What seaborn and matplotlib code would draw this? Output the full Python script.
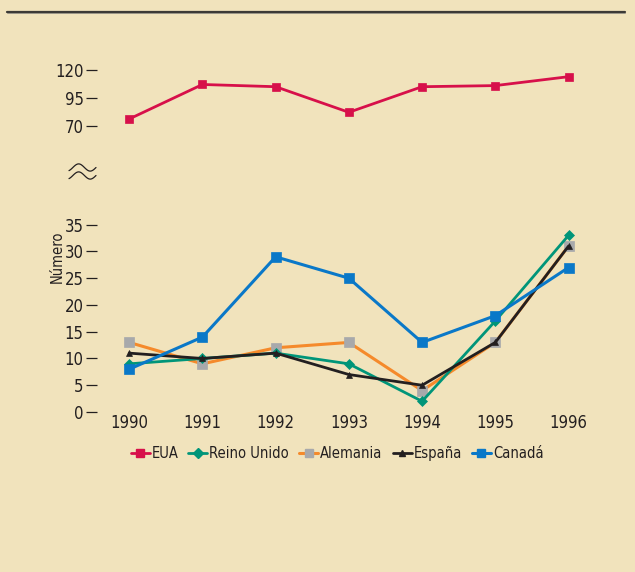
import numpy as np
import pandas as pd
import matplotlib
matplotlib.use("Agg")
import matplotlib.pyplot as plt
from matplotlib import font_manager
from matplotlib.lines import Line2D
import seaborn as sns

years = [1990, 1991, 1992, 1993, 1994, 1995, 1996]
eua = [76, 107, 105, 82, 105, 106, 114]
reino_unido = [9, 10, 11, 9, 2, 17, 33]
alemania = [13, 9, 12, 13, 4, 13, 31]
espana = [11, 10, 11, 7, 5, 13, 31]
canada = [8, 14, 29, 25, 13, 18, 27]

top_ticks = [70, 95, 120]
bottom_ticks = [0, 5, 10, 15, 20, 25, 30, 35]
labels = ["EUA", "Reino Unido", "Alemania", "España", "Canadá"]

BG = "#F1E3BC"
INK = "#231F20"

sns.set_theme(style="white")
names = {f.name for f in font_manager.fontManager.ttflist}
FONT = "Liberation Sans Narrow" if "Liberation Sans Narrow" in names else "DejaVu Sans"
plt.rcParams["font.family"] = [FONT, "DejaVu Sans"]
plt.rcParams["font.stretch"] = "condensed"

W, H = 635, 572
fig = plt.figure(figsize=(W / 100, H / 100), dpi=100, facecolor=BG)


def px_axes(left, top, right, bottom):
    return fig.add_axes([left / W, 1 - bottom / H, (right - left) / W, (bottom - top) / H])


def fx(x):
    return np.asarray(x) / W


def fy(y):
    return 1 - np.asarray(y) / H


ax_top = px_axes(97, 60, 600, 135)
ax_bot = px_axes(97, 214, 600, 413.6)

xlim = (1989.56, 1996.43)

df = pd.DataFrame({"año": years, "EUA": eua, "Reino Unido": reino_unido,
                   "Alemania": alemania, "España": espana, "Canadá": canada})

styles = {
    "EUA": dict(color="#D7104A", marker="s", markersize=5.5, markerfacecolor="#D7104A",
                markeredgecolor="#D7104A", lw=2.0),
    "Reino Unido": dict(color="#009579", marker="D", markersize=5.5, markerfacecolor="#009579",
                        markeredgecolor="#009579", lw=2.0),
    "Alemania": dict(color="#F58A2B", marker="s", markersize=7, markerfacecolor="#A8A9AB",
                     markeredgecolor="#A8A9AB", lw=2.2),
    "España": dict(color="#231F20", marker="^", markersize=5, markerfacecolor="#231F20",
                   markeredgecolor="#231F20", lw=2.0),
    "Canadá": dict(color="#0A78C8", marker="s", markersize=7, markerfacecolor="#0A78C8",
                   markeredgecolor="#0A78C8", lw=2.2),
}

sns.lineplot(data=df, x="año", y="EUA", ax=ax_top, markeredgewidth=0.5, **styles["EUA"])
for name in ["Alemania", "Reino Unido", "España", "Canadá"]:
    sns.lineplot(data=df, x="año", y=name, ax=ax_bot, markeredgewidth=0.5,
                 clip_on=False, **styles[name])

for ax in (ax_top, ax_bot):
    ax.patch.set_alpha(0)
    for s in ax.spines.values():
        s.set_visible(False)
    ax.set_xlim(*xlim)
    ax.set_xlabel("")
    ax.set_ylabel("")
    ax.tick_params(axis="y", direction="out", length=8, width=0.9,
                   color=INK, pad=1.5, labelsize=12, labelcolor=INK, left=True)

ax_top.set_ylim(61.6, 129)
ax_top.set_yticks(top_ticks)
ax_top.set_xticks([])

ax_bot.set_ylim(-0.3, 37)
ax_bot.set_yticks(bottom_ticks)
ax_bot.set_xticks(years)
ax_bot.set_xticklabels([str(y) for y in years])
ax_bot.tick_params(axis="x", length=0, pad=0, labelsize=12, labelcolor=INK)

fig.text(fx(57), fy(257), "Número", rotation=90, ha="center", va="center",
         fontsize=10.5, color=INK)

# axis-break mark: two thin tilde-shaped waves
t = np.linspace(0, 1, 80)
wx = 69 + 27 * t
ang = -np.pi / 3 + t * (2 * np.pi + np.pi / 3)
for c in (167.5, 175.5):
    wy = c - 3.6 * np.sin(ang)
    fig.add_artist(Line2D(fx(wx), fy(wy), color=INK, lw=0.9))

# rule across the top of the panel
fig.add_artist(Line2D([fx(7), fx(625)], [fy(11.5)] * 2, color="#3C3A36", lw=1.6))
fig.add_artist(Line2D([fx(7), fx(625)], [fy(13)] * 2, color="#8E8A80", lw=0.6))

# legend laid out in one row along a shared baseline
fig.canvas.draw()
renderer = fig.canvas.get_renderer()
fs = 10.5
handle_len, text_gap, entry_gap = 19, 2, 10
widths = []
for lab in labels:
    tt = fig.text(0, 0, lab, fontsize=fs)
    widths.append(tt.get_window_extent(renderer).width)
    tt.remove()
total = sum(handle_len + text_gap + w for w in widths) + entry_gap * (len(labels) - 1)
x = 337 - total / 2
base_y = 458
line_y = 453
for lab, w in zip(labels, widths):
    st = styles[lab]
    fig.add_artist(Line2D(fx([x, x + handle_len]), fy([line_y, line_y]),
                          color=st["color"], lw=st["lw"]))
    fig.add_artist(Line2D(fx([x + handle_len / 2]), fy([line_y]), ls="none",
                          marker=st["marker"], markersize=min(st["markersize"], 6),
                          markerfacecolor=st["markerfacecolor"],
                          markeredgecolor=st["markeredgecolor"]))
    fig.text(fx(x + handle_len + text_gap), fy(base_y), lab, fontsize=fs,
             color=INK, ha="left", va="baseline")
    x += handle_len + text_gap + w + entry_gap

fig.savefig("out.png", dpi=100, facecolor=BG)
